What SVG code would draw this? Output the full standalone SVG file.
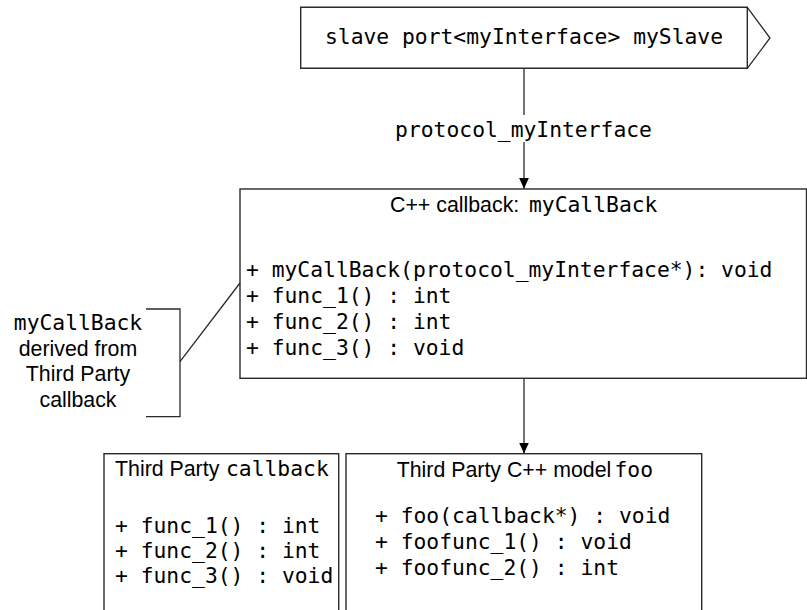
<svg xmlns="http://www.w3.org/2000/svg" width="807" height="610" viewBox="0 0 807 610">
  <style>
    .box { fill: #ffffff; stroke: #2a2a2a; stroke-width: 1.4; }
    .ln { fill: none; stroke: #2a2a2a; stroke-width: 1.3; }
    .mono { font-family: "DejaVu Sans Mono", "Liberation Mono", monospace; font-size: 21.33px; fill: #000; }
    .sans { font-family: "Liberation Sans", Arial, sans-serif; font-size: 21.33px; fill: #000; }
  </style>
  <defs>
    <marker id="arrow" markerUnits="userSpaceOnUse" markerWidth="12" markerHeight="12" viewBox="0 0 12 12" refX="11" refY="6" orient="auto">
      <path d="M0,1 L11,6 L0,11 Z" fill="#000"/>
    </marker>
  </defs>
  <rect width="807" height="610" fill="#ffffff"/>

  <g id="slave-port">
    <polygon class="box" points="300.7,7.3 747.3,7.3 747.3,68.3 300.7,68.3"/>
    <polyline class="ln" points="747.3,7.3 770,38 747.3,68.3"/>
    <text class="mono" x="524" y="44.3" text-anchor="middle">slave port&lt;myInterface&gt; mySlave</text>
  </g>

  <g id="cpp-callback">
    <rect class="box" x="240" y="189" width="566.5" height="189.3"/>
    <text y="211.7"><tspan class="sans" x="390">C++ callback: </tspan><tspan class="mono" x="529">myCallBack</tspan></text>
    <text class="mono" x="246" y="276.7">+ myCallBack(protocol_myInterface*): void</text>
    <text class="mono" x="246" y="303">+ func_1() : int</text>
    <text class="mono" x="246" y="328.7">+ func_2() : int</text>
    <text class="mono" x="246" y="355">+ func_3() : void</text>
  </g>

  <g id="derived-note">
    <polyline class="ln" points="146,309 180,309 180,416.7 146,416.7"/>
    <text class="mono" x="78" y="330" text-anchor="middle">myCallBack</text>
    <text class="sans" x="78" y="356" text-anchor="middle">derived from</text>
    <text class="sans" x="78" y="381" text-anchor="middle">Third Party</text>
    <text class="sans" x="78" y="406.7" text-anchor="middle">callback</text>
  </g>

  <g id="third-party-callback">
    <rect class="box" x="104" y="453.7" width="234.7" height="170"/>
    <text y="476.3"><tspan class="sans" x="115">Third Party </tspan><tspan class="mono" x="226">callback</tspan></text>
    <text class="mono" x="115" y="533.3">+ func_1() : int</text>
    <text class="mono" x="115" y="558.3">+ func_2() : int</text>
    <text class="mono" x="115" y="583.3">+ func_3() : void</text>
  </g>

  <g id="third-party-foo">
    <rect class="box" x="346" y="453.7" width="355.7" height="170"/>
    <text y="476.7"><tspan class="sans" x="396.7">Third Party C++ model </tspan><tspan class="mono" x="614.5">foo</tspan></text>
    <text class="mono" x="375" y="523">+ foo(callback*) : void</text>
    <text class="mono" x="375" y="549">+ foofunc_1() : void</text>
    <text class="mono" x="375" y="575">+ foofunc_2() : int</text>
  </g>

  <g id="connectors">
    <line class="ln" x1="524" y1="68.3" x2="524" y2="115"/>
    <line class="ln" x1="524" y1="142" x2="524" y2="188.7" marker-end="url(#arrow)"/>
    <text class="mono" x="523.5" y="136.7" text-anchor="middle">protocol_myInterface</text>
    <line class="ln" x1="524" y1="378.3" x2="524" y2="453.5" marker-end="url(#arrow)"/>
    <line class="ln" x1="180" y1="361.7" x2="240" y2="283"/>
  </g>
</svg>
